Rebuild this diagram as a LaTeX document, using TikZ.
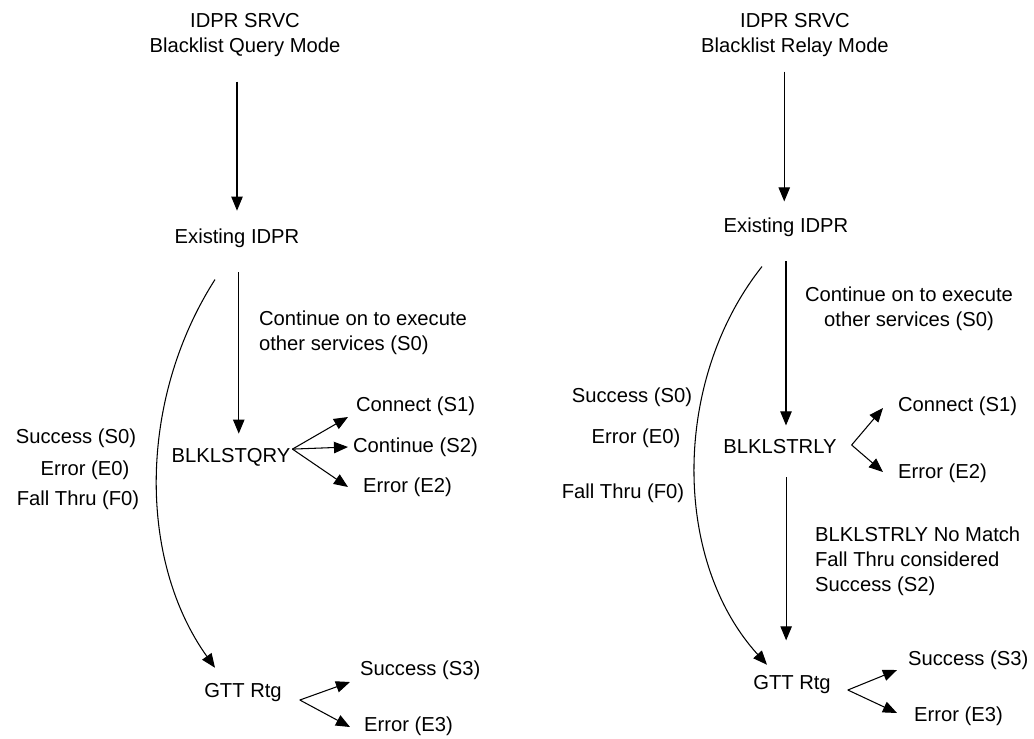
\documentclass[tikz,border=0pt]{standalone}
\usepackage{fontspec}
\setmainfont{Liberation Sans}
\usepackage{tikz}
\usetikzlibrary{positioning,arrows.meta}
\tikzset{lbl/.style={draw=none,inner sep=1pt,font=\fontsize{11.5}{14.2}\selectfont},
         line/.style={line width=0.6pt}
}
\tikzstyle{arrow} = [line width=0.6pt,-{Triangle[length=8pt,width=6.5pt]}]

\begin{document}
\begin{tikzpicture}[x=0.02cm,y=-0.02cm]
\useasboundingbox (0,0) rectangle (1034,738);

\node[lbl,align=center] (qtitle) at (245,35) {IDPR SRVC\\Blacklist Query Mode};
\node[lbl] (qexist) at (237,238) {Existing IDPR};
\node[lbl] (qry) at (231,457) {BLKLSTQRY};
\node[lbl] (qgtt) at (243,693) {GTT Rtg};
\node[lbl,anchor=west,align=left] (qcont) at (257,333) {Continue on to execute\\other services (S0)};
\node[lbl,anchor=west] (qs1) at (354,406) {Connect (S1)};
\node[lbl,anchor=west] (qs2) at (351,447) {Continue (S2)};
\node[lbl,anchor=west] (qe2) at (361,487) {Error (E2)};
\node[lbl,anchor=west] (qs3) at (358,670) {Success (S3)};
\node[lbl,anchor=west] (qe3) at (362,726) {Error (E3)};
\node[lbl] (qs0) at (76,438) {Success (S0)};
\node[lbl] (qe0) at (85,470) {Error (E0)};
\node[lbl] (qf0) at (78,500) {Fall Thru (F0)};
\draw[arrow,shorten <=13pt,shorten >=9pt] (qtitle.south -| qexist.north)--(qexist.north);
\draw[arrow,shorten <=13pt,shorten >=7pt] ([xshift=1pt]qexist.south)--([xshift=1pt]qexist.south |- qry.north);
\draw[arrow] ([shift={(-22,30)}]qexist.south) .. controls (138,400) and (138,560) .. ([shift={(-28,-14)}]qgtt.north);
\draw[arrow] ([yshift=4.5pt]qry.east)--([shift={(-6,11)}]qs1.west);
\draw[arrow] ([yshift=4.5pt]qry.east)--([shift={(-3,0)}]qs2.west);
\draw[arrow] ([yshift=4.5pt]qry.east)--([shift={(-13,0)}]qe2.west);
\draw[arrow] ([shift={(16,7)}]qgtt.east)--([shift={(-8,12)}]qs3.west);
\draw[arrow] ([shift={(16,7)}]qgtt.east)--([shift={(-12,1)}]qe3.west);

\node[lbl,align=center] (rtitle) at (795,35) {IDPR SRVC\\Blacklist Relay Mode};
\node[lbl] (rexist) at (786,227) {Existing IDPR};
\node[lbl] (rrly) at (780,447) {BLKLSTRLY};
\node[lbl] (rgtt) at (792,685) {GTT Rtg};
\node[lbl,align=center] (rcont) at (909,309) {Continue on to execute\\other services (S0)};
\node[lbl,anchor=west] (rs1) at (896,406) {Connect (S1)};
\node[lbl,anchor=west] (re2) at (896,473) {Error (E2)};
\node[lbl,anchor=west,align=left] (rnomatch) at (813,561) {BLKLSTRLY No Match\\Fall Thru considered\\Success (S2)};
\node[lbl,anchor=west] (rs3) at (906,660) {Success (S3)};
\node[lbl,anchor=west] (re3) at (912,716) {Error (E3)};
\node[lbl] (rs0) at (632,397) {Success (S0)};
\node[lbl] (re0) at (636,438) {Error (E0)};
\node[lbl] (rf0) at (623,493) {Fall Thru (F0)};
\draw[arrow,shorten <=7.4pt,shorten >=8pt] ([xshift=-1pt]rtitle.south -| rexist.north)--([xshift=-1pt]rexist.north);
\draw[arrow,shorten <=13pt,shorten >=7pt] (rexist.south)--(rexist.south |- rrly.north);
\draw[arrow,shorten <=12pt,shorten >=19pt] ([xshift=3.5pt]rrly.south)--([xshift=3.5pt]rrly.south |- rgtt.north);
\draw[arrow] ([shift={(-24,28)}]rexist.south) .. controls (672,380) and (672,560) .. ([shift={(-25,-9)}]rgtt.north);
\draw[arrow] ([shift={(13,-2)}]rrly.east)--([shift={(-13,2)}]rs1.west);
\draw[arrow] ([shift={(13,-2)}]rrly.east)--([shift={(-13,-1)}]re2.west);
\draw[arrow] ([shift={(15,5)}]rgtt.east)--([shift={(-9,10)}]rs3.west);
\draw[arrow] ([shift={(15,5)}]rgtt.east)--([shift={(-15,-3)}]re3.west);

\end{tikzpicture}
\end{document}
